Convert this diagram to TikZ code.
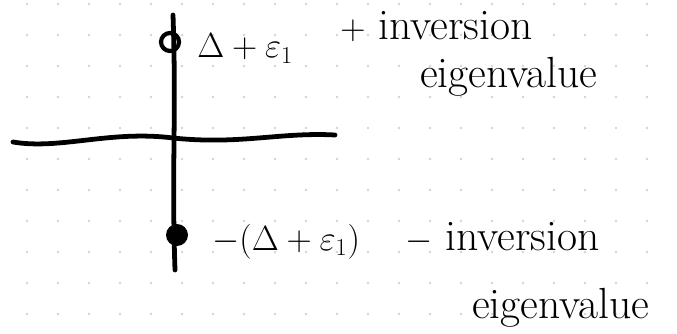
\documentclass[tikz,border=0pt]{standalone}
\usepackage{amsmath,amssymb}
\usetikzlibrary{positioning}

\begin{document}
\begin{tikzpicture}
    [x=0.025cm, y=-0.025cm,
    node distance=2mm,
    axis/.style={line width=3.4pt, line cap=round},
    vertex/.style={inner sep=0pt, circle, minimum size=0.45cm, line width=3pt},
    lbl/.style={font=\fontsize{31}{34}\selectfont, inner sep=0pt, anchor=base west},
    mlbl/.style={font=\fontsize{26}{30}\selectfont, inner sep=0pt, anchor=base west}]
        \useasboundingbox (0,0) rectangle (677,334);
        % dot grid
        \foreach \i in {0,...,20}
            \foreach \j in {0,...,10}
                \fill[black!17] (27+31*\i, 4+31*\j) circle (1.4);

        \coordinate (top) at (173,15);
        \coordinate (bot) at (175,270);
        \coordinate (left) at (13,142);
        \coordinate (right) at (335,135);

        \node[vertex] (plus) at (170,42) {};
        \node[vertex, minimum size=0.55cm] (minus) at (177,235) {};

        \draw[axis] (top) to[out=-88, in=92] (bot);
        \draw[axis] (left) .. controls (60,150) and (110,130) .. (173,138)
            .. controls (240,145) and (280,132) .. (right);
        \node[vertex, draw] at (plus) {};
        \fill (minus) circle (11);

        \node[mlbl] (pluslbl) at (197,58) {$\Delta+\varepsilon_1$};
        \node[lbl] (plustxt) at (340,40) {$+$ inversion};
        \node[lbl] (pluseig) at (420,88) {eigenvalue};
        \node[mlbl] (minuslbl) at (212,250) {$-(\Delta+\varepsilon_1)$};
        \node[lbl] (minustxt) at (405,250) {$-$ inversion};
        \node[lbl] (minuseig) at (472,318) {eigenvalue};
\end{tikzpicture}
\end{document}
